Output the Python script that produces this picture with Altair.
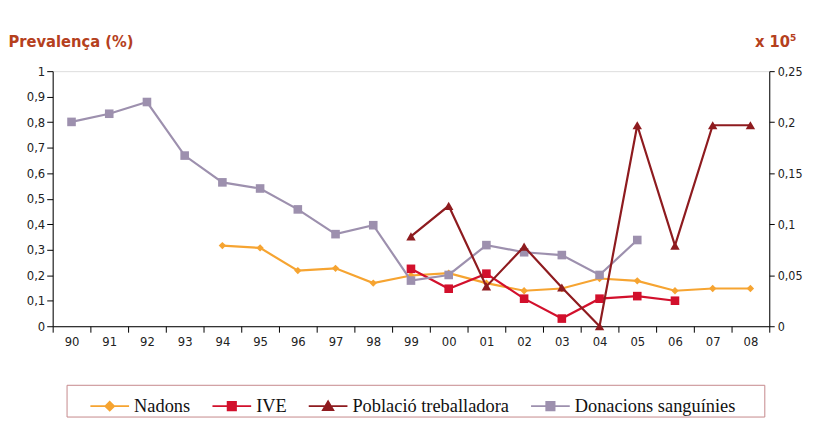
import altair as alt
import pandas as pd

years = ['90', '91', '92', '93', '94', '95', '96', '97', '98', '99',
         '00', '01', '02', '03', '04', '05', '06', '07', '08']

nadons = [None, None, None, None, 0.316, 0.307, 0.218, 0.227, 0.169, 0.199,
          0.208, 0.169, 0.139, 0.148, 0.187, 0.178, 0.139, 0.148, 0.148]
ive = [None, None, None, None, None, None, None, None, None, 0.225,
       0.147, 0.206, 0.108, 0.030, 0.108, 0.118, 0.100, None, None]
# right axis (x 10^5)
poblacio = [None, None, None, None, None, None, None, None, None, 0.088,
            0.118, 0.039, 0.078, 0.038, 0.0, 0.197, 0.079, 0.197, 0.197]
donacions = [0.801, 0.833, 0.879, 0.669, 0.564, 0.540, 0.458, 0.361, 0.396, 0.179,
             0.201, 0.318, 0.290, 0.279, 0.201, 0.338, None, None, None]

names = ['Nadons', 'IVE', 'Població treballadora', 'Donacions sanguínies']
colors = ['#f6a431', '#d2102c', '#8e1b1f', '#9d90ae']
point_shapes = ['diamond', 'square', 'triangle-up', 'square']
point_sizes = [55, 75, 90, 75]
legend_paths = [
    'M-1,0L1,0M0,-0.22L0.22,0L0,0.22L-0.22,0Z',
    'M-1,0L1,0M-0.21,-0.21L0.21,-0.21L0.21,0.21L-0.21,0.21Z',
    'M-1,0L1,0M0,-0.24L0.26,0.2L-0.26,0.2Z',
    'M-1,0L1,0M-0.21,-0.21L0.21,-0.21L0.21,0.21L-0.21,0.21Z',
]
series_values = [nadons, ive, poblacio, donacions]

rows = []
for name, vals in zip(names, series_values):
    for yr, v in zip(years, vals):
        if v is not None:
            rows.append({'year': yr, 'series': name, 'value': v})
df = pd.DataFrame(rows)

AXFONT = 'DejaVu Sans Condensed, Liberation Sans Narrow, DejaVu Sans'
TITLECOL = '#b5401d'

X = alt.X('year:N', sort=years, bandPosition=0.5,
          scale=alt.Scale(type='band', domain=years, paddingInner=0, paddingOuter=0),
          axis=alt.Axis(title=None, labelAngle=0, tickBand='extent', tickSize=6,
                        labelPadding=3, labelFont=AXFONT, labelFontSize=13,
                        labelColor='#222222', domainColor='#000000',
                        tickColor='#000000', grid=False))

Y_left = alt.Y('value:Q', scale=alt.Scale(domain=[0, 1], nice=False, zero=True),
               axis=alt.Axis(orient='left', values=[i / 10 for i in range(11)],
                             format='.1~f', labelExpr="replace(datum.label, '.', ',')",
                             tickSize=6, labelPadding=2, labelFont=AXFONT,
                             labelFontSize=13, labelColor='#222222',
                             domainColor='#000000', tickColor='#000000', grid=False,
                             title='Prevalença (%)', titleAngle=0, titleAlign='left',
                             titleBaseline='alphabetic', titleX=-45, titleY=-25,
                             titleFont=AXFONT, titleFontSize=16.5, titleFontWeight='bold',
                             titleColor=TITLECOL))

Y_right = alt.Y('value:Q', scale=alt.Scale(domain=[0, 0.25], nice=False, zero=True),
                axis=alt.Axis(orient='right', values=[0, 0.05, 0.1, 0.15, 0.2, 0.25],
                              format='.2~f', labelExpr="replace(datum.label, '.', ',')",
                              tickSize=5, labelPadding=3, labelFont=AXFONT,
                              labelFontSize=12.5, labelColor='#222222',
                              domainColor='#000000', tickColor='#000000', grid=False,
                              title='x 10⁵', titleAngle=0, titleAlign='left',
                              titleBaseline='alphabetic', titleX=-15, titleY=-25,
                              titleFont=AXFONT, titleFontSize=16.5, titleFontWeight='bold',
                              titleColor=TITLECOL))

base = alt.Chart(df)


def series_layers(i, Y):
    name = names[i]
    src = base.transform_filter(alt.datum.series == name)
    line = src.mark_line(color=colors[i], strokeWidth=2.2).encode(x=X, y=Y)
    pts = src.mark_point(shape=point_shapes[i], filled=True, color=colors[i],
                         size=point_sizes[i], opacity=1).encode(x=X, y=Y)
    return [line, pts]


leg = alt.Legend(orient='none', legendX=14, legendY=316, direction='horizontal',
                 title=' ', titleOrient='left', titleFontSize=1, titlePadding=22,
                 strokeColor='#c6888b', fillColor='#ffffff', padding=1,
                 labelFont='Liberation Serif', labelFontSize=18.5, labelColor='#111111',
                 labelOffset=4, columnPadding=18, symbolSize=1521,
                 symbolStrokeWidth=2, symbolOpacity=1, labelLimit=400,
                 labelExpr="datum.label + (datum.index == 3 ? '\u2800\u2800' : '')")

legend_layer = base.transform_filter('false').mark_point(filled=True, strokeWidth=2, opacity=1).encode(
    x=X, y=Y_left,
    fill=alt.Fill('series:N', scale=alt.Scale(domain=names, range=colors), legend=leg),
    stroke=alt.Stroke('series:N', scale=alt.Scale(domain=names, range=colors), legend=leg),
    shape=alt.Shape('series:N', scale=alt.Scale(domain=names, range=legend_paths), legend=leg),
)

left = alt.layer(*(series_layers(0, Y_left) + series_layers(1, Y_left) +
                   series_layers(3, Y_left) + [legend_layer]))
right = alt.layer(*series_layers(2, Y_right))

chart = alt.layer(left, right).resolve_scale(y='independent').properties(
    width=722, height=257,
    autosize=alt.AutoSizeParams(type='none'),
    padding={'left': 45, 'top': 62, 'right': 36, 'bottom': 112},
).configure_view(stroke=None).configure(background='white')

chart.save('out.html', embed_options={'renderer': 'svg', 'actions': False})
